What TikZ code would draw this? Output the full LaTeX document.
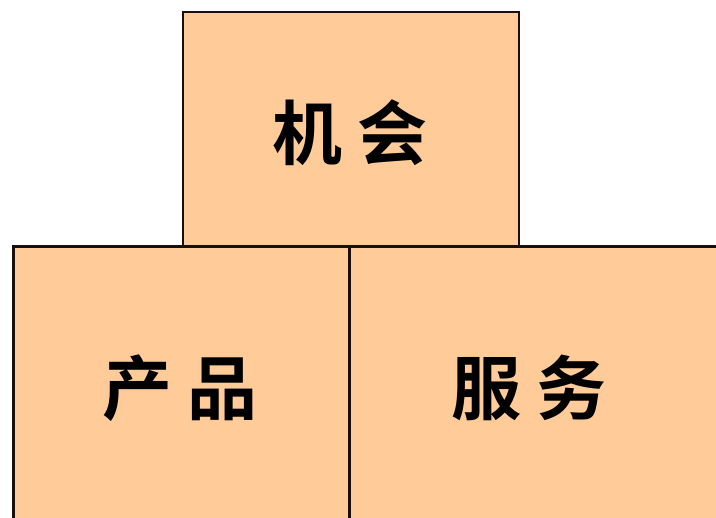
\documentclass[tikz,border=0pt]{standalone}
\usepackage{fontspec}
\newfontfamily\cjk{Noto Sans CJK SC}[BoldFont={* Bold}]
\definecolor{peach}{HTML}{FFCC99}
\definecolor{edge}{HTML}{1A0F0F}
\begin{document}
\begin{tikzpicture}[x=1pt,y=-1pt,
  boxstyle/.style={draw=edge,fill=peach},
  lbl/.style={font=\cjk\bfseries\fontsize{70}{70}\selectfont,text=black,inner sep=0pt}]
\useasboundingbox (0,0) rectangle (716,518);
\path[boxstyle,line width=2pt] (183,12) rectangle (519,247);
\node[lbl] (a) at (350,133) {机\kern16pt 会};
\path[boxstyle,line width=3pt] (13,247) rectangle (349,530);
\path[boxstyle,line width=3pt] (349,247) rectangle (730,530);
\node[lbl] (b) at (180,388) {产\kern16pt 品};
\node[lbl] (c) at (529,388) {服\kern16pt 务};
\end{tikzpicture}
\end{document}
